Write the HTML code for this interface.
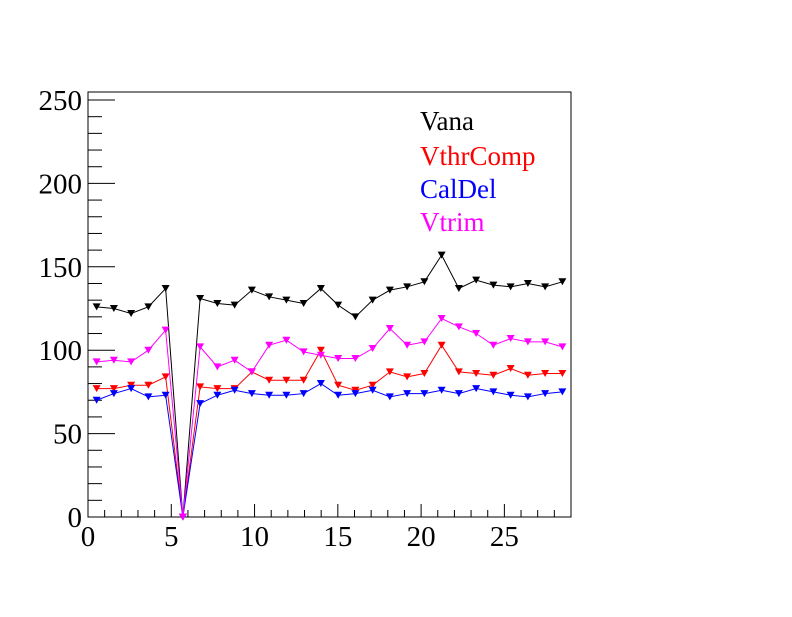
<!DOCTYPE html>
<html><head><meta charset="utf-8"><style>
body{margin:0;background:#fff;}
svg text{font-family:"Liberation Serif",serif;}
</style></head><body>
<svg id="c" width="792" height="612" xmlns="http://www.w3.org/2000/svg"></svg>
<script>
const categories=[0.518,1.554,2.589,3.625,4.661,5.696,6.732,7.768,8.804,9.839,10.875,11.911,12.946,13.982,15.018,16.054,17.089,18.125,19.161,20.196,21.232,22.268,23.304,24.339,25.375,26.411,27.446,28.482];
const vana=[126,125,122,126,137,0,131,128,127,136,132,130,128,137,127,120,130,136,138,141,157,137,142,139,138,140,138,141];
const vthrComp=[77,77,79,79,84,0,78,77,77,87,82,82,82,100,79,76,79,87,84,86,103,87,86,85,89,85,86,86];
const calDel=[70,74,77,72,73,0,68,73,76,74,73,73,74,80,73,74,76,72,74,74,76,74,77,75,73,72,74,75];
const vtrim=[93,94,93,100,112,0,102,90,94,87,103,106,99,97,95,95,101,113,103,105,119,114,110,103,107,105,105,102];
const xTicks=[0,5,10,15,20,25];
const yTicks=[0,50,100,150,200,250];
const seriesNames=["Vana","VthrComp","CalDel","Vtrim"];
const seriesColors=["#000000","#ff0000","#0000ff","#ff00ff"];
const seriesData=[vana,vthrComp,calDel,vtrim];

const L=88,R=571,T=92,B=517;
const xMin=0,xMax=29,yMin=0,yMax=250;
const sx=v=>L+(v-xMin)/(xMax-xMin)*(R-L);
const sy=v=>B-(v-yMin)/(yMax-yMin)*(B-100);
const svg=document.getElementById('c');
const NS='http://www.w3.org/2000/svg';
function mk(t,a,p){const e=document.createElementNS(NS,t);for(const k in a)e.setAttribute(k,a[k]);(p||svg).appendChild(e);return e;}

const frame=mk('rect',{x:L,y:T,width:R-L,height:B-T,fill:'none',stroke:'#000','stroke-width':1});



const yAxis=mk('g',{});


for(let v=0;v<=250;v+=10){
  const major=v%50===0;
  mk('line',{x1:L,x2:L+(major?27:14),y1:sy(v),y2:sy(v),stroke:'#000','stroke-width':1},yAxis);
}
yTicks.forEach(v=>{
  const t=mk('text',{x:L-6,y:sy(v)+10,'text-anchor':'end','font-size':29},yAxis);
  t.textContent=v;
  
  
});
const xAxis=mk('g',{});


for(let v=0;v<=29;v++){
  const major=v%5===0;
  mk('line',{x1:sx(v),x2:sx(v),y1:B,y2:B-(major?13:7),stroke:'#000','stroke-width':1},xAxis);
}
xTicks.forEach(v=>{
  const t=mk('text',{x:sx(v),y:B+29,'text-anchor':'middle','font-size':29},xAxis);
  t.textContent=v;
  
  
});

seriesData.forEach((d,si)=>{
  const g=mk('g',{});
  
  
  const pts=d.map((v,i)=>sx(categories[i])+','+sy(v)).join(' ');
  mk('polyline',{points:pts,fill:'none',stroke:seriesColors[si],'stroke-width':1},g);
  d.forEach((v,i)=>{
    const x=sx(categories[i]),y=sy(v);
    const m=mk('polygon',{points:`${x-4},${y-3.5} ${x+4},${y-3.5} ${x},${y+3.5}`,fill:seriesColors[si]},g);
    
    
  });
});

const leg=mk('g',{});


const ly=[130,165,198,231];
seriesNames.forEach((n,i)=>{
  const t=mk('text',{x:420,y:ly[i],'font-size':27,fill:seriesColors[i]},leg);
  t.textContent=n;
  
  
});
</script>
</body></html>
